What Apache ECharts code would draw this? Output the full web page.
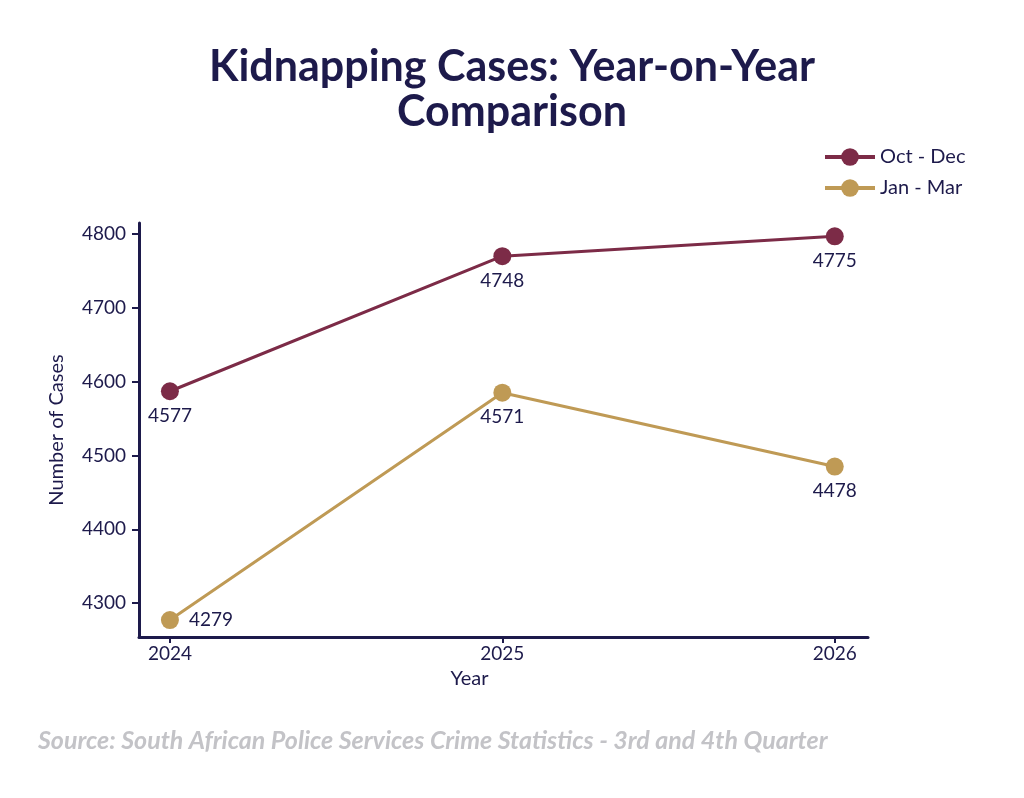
<!DOCTYPE html>
<html>
<head>
<meta charset="utf-8">
<title>Kidnapping Cases</title>
<script src="https://cdn.jsdelivr.net/npm/echarts@6/dist/echarts.min.js"></script>
<style>
    html, body { margin: 0; padding: 0; background: #fff; }
    #chart { width: 1024px; height: 798px; }
</style>
</head>
<body>
<div id="chart"></div>
<script>
    // data
    const years = [2024, 2025, 2026];
    // where the markers sit on the axis
    const octDec = [4587, 4770, 4797];
    const janMar = [4277, 4585, 4485];
    // the numbers printed next to the markers
    const octDecLabels = ['4577', '4748', '4775'];
    const janMarLabels = ['4279', '4571', '4478'];
    const yTicks = [4300, 4400, 4500, 4600, 4700, 4800];

    const navy = '#1d1a4b';
    const font = 'Lato';

    let myChart = echarts.init(document.getElementById('chart'));

    let option = {
        backgroundColor: '#fff',
        textStyle: { fontFamily: font },
        title: {
            text: 'Kidnapping Cases: Year-on-Year\nComparison',
            left: 'center',
            top: 40,
            textStyle: {
                fontFamily: font,
                fontSize: 43,
                fontWeight: 'bold',
                lineHeight: 45,
                color: navy
            }
        },
        legend: {
            orient: 'vertical',
            left: 818,
            top: 142,
            itemWidth: 50,
            itemHeight: 22,
            itemGap: 11,
            lineStyle: { width: 4 },
            textStyle: { fontSize: 20, color: navy, fontFamily: font }
        },
        grid: {
            left: 139,
            right: 156,
            top: 223,
            bottom: 161
        },
        xAxis: {
            type: 'value',
            min: 2023.907,
            max: 2026.1,
            name: 'Year',
            nameLocation: 'middle',
            nameGap: 32,
            nameTextStyle: { fontSize: 20, color: navy, padding: [0, 68, 0, 0] },
            splitLine: { show: false },
            axisLine: { lineStyle: { color: navy, width: 3 } },
            axisTick: { length: 6, lineStyle: { color: navy, width: 2 }, customValues: years },
            axisLabel: {
                fontSize: 19, color: navy, margin: 7,
                customValues: years,
                formatter: function (v) { return String(v); }
            }
        },
        yAxis: {
            type: 'value',
            min: 4254,
            max: 4815,
            name: 'Number of Cases',
            nameLocation: 'middle',
            nameGap: 72,
            nameTextStyle: { fontSize: 20, color: navy },
            splitLine: { show: false },
            axisLine: { show: true, lineStyle: { color: navy, width: 3 } },
            axisTick: { show: true, length: 7, lineStyle: { color: navy, width: 2 }, customValues: yTicks },
            axisLabel: {
                fontSize: 19, color: navy, margin: 13,
                customValues: yTicks,
                formatter: function (v) { return String(v); }
            }
        },
        series: [
            {
                name: 'Oct - Dec',
                type: 'line',
                data: years.map((y, i) => [y, octDec[i]]),
                color: '#7c2b47',
                lineStyle: { width: 3 },
                symbol: 'circle',
                symbolSize: 18,
                label: {
                    show: true,
                    position: 'bottom',
                    distance: 6,
                    fontSize: 19,
                    color: navy,
                    formatter: p => octDecLabels[p.dataIndex]
                }
            },
            {
                name: 'Jan - Mar',
                type: 'line',
                data: years.map((y, i) => [y, janMar[i]]),
                color: '#bf9a55',
                lineStyle: { width: 3 },
                symbol: 'circle',
                symbolSize: 18,
                label: {
                    show: true,
                    position: 'bottom',
                    distance: 6,
                    fontSize: 19,
                    color: navy,
                    formatter: p => janMarLabels[p.dataIndex]
                },
                labelLayout: function (params) {
                    // first point has its number to the right
                    if (params.dataIndex === 0) {
                        return { x: params.rect.x + params.rect.width + 10, y: params.rect.y + params.rect.height / 2, align: 'left', verticalAlign: 'middle' };
                    }
                }
            }
        ],
        graphic: [{
            type: 'text',
            left: 38,
            top: 728,
            style: {
                text: 'Source: South African Police Services Crime Statistics - 3rd and 4th Quarter',
                fontFamily: font,
                fontSize: 25,
                fontStyle: 'italic',
                fontWeight: 'bold',
                fill: '#c3c3c7'
            }
        }]
    };
    myChart.setOption(option);
</script>
</body>
</html>
